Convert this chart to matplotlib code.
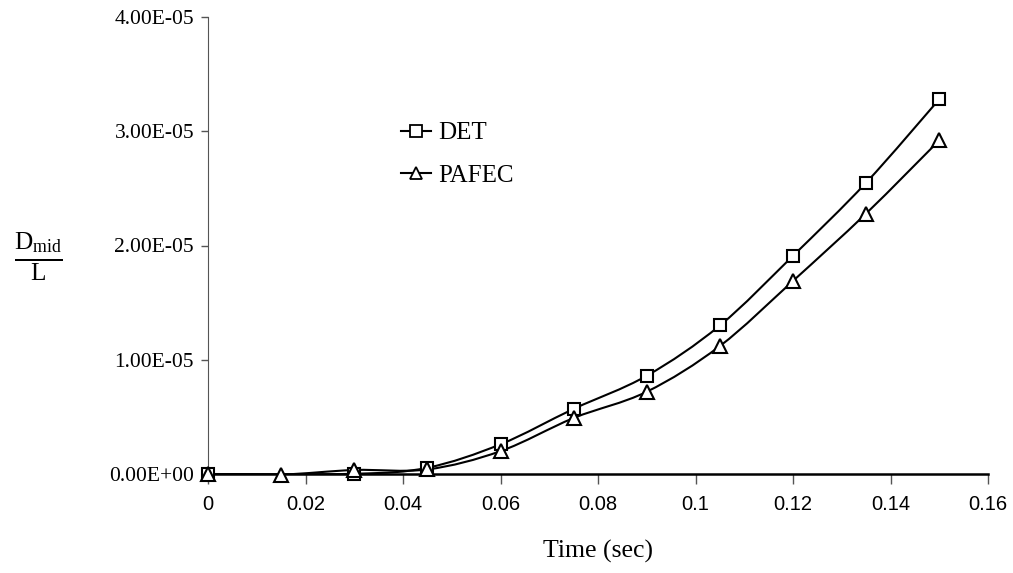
import matplotlib
matplotlib.use("Agg")
import matplotlib.pyplot as plt
from matplotlib.path import Path
from matplotlib.patches import PathPatch
from matplotlib.lines import Line2D
import numpy as np

# data
det_t = [0.0, 0.03, 0.045, 0.06, 0.075, 0.09, 0.105, 0.12, 0.135, 0.15]
det_d = [0.0, 0.02e-6, 0.55e-6, 2.6e-6, 5.7e-6, 8.6e-6, 13.0e-6, 19.1e-6, 25.5e-6, 32.8e-6]
pafec_t = [0.0, 0.015, 0.03, 0.045, 0.06, 0.075, 0.09, 0.105, 0.12, 0.135, 0.15]
pafec_d = [0.0, -0.05e-6, 0.35e-6, 0.4e-6, 2.0e-6, 4.9e-6, 7.2e-6, 11.2e-6, 16.9e-6, 22.8e-6, 29.2e-6]

x_ticks = [0, 0.02, 0.04, 0.06, 0.08, 0.1, 0.12, 0.14, 0.16]
x_tick_labels = ["0", "0.02", "0.04", "0.06", "0.08", "0.1", "0.12", "0.14", "0.16"]
y_ticks = [0, 1e-5, 2e-5, 3e-5, 4e-5]
y_tick_labels = ["0.00E+00", "1.00E-05", "2.00E-05", "3.00E-05", "4.00E-05"]

plt.rcParams["mathtext.fontset"] = "custom"
plt.rcParams["mathtext.rm"] = "Liberation Serif"
plt.rcParams["mathtext.it"] = "Liberation Serif"


def smooth_path(xs, ys):
    # Excel-style smoothed line: cubic Bezier segments through the points
    pts = np.column_stack([xs, ys])
    n = len(pts)
    verts = [pts[0]]
    codes = [Path.MOVETO]
    for i in range(n - 1):
        p0 = pts[i - 1] if i > 0 else pts[i]
        p1 = pts[i]
        p2 = pts[i + 1]
        p3 = pts[i + 2] if i + 2 < n else pts[i + 1]
        c1 = p1 + (p2 - p0) / 6
        c2 = p2 - (p3 - p1) / 6
        verts += [c1, c2, p2]
        codes += [Path.CURVE4] * 3
    return Path(verts, codes)


fig = plt.figure(figsize=(10.13, 5.73), dpi=100)
ax = fig.add_axes([208 / 1013, 1 - 474 / 573, (988 - 208) / 1013, (474 - 17) / 573])

for xs, ys, mk in [(det_t, det_d, "s"), (pafec_t, pafec_d, "^")]:
    ax.add_patch(PathPatch(smooth_path(xs, ys), facecolor="none", edgecolor="black", lw=1.5, zorder=2))
    ax.plot(xs, ys, linestyle="none", marker=mk, markersize=8.5 if mk == "s" else 9.5,
            markerfacecolor="white", markeredgecolor="black", markeredgewidth=1.5, zorder=3,
            clip_on=False)

ax.set_xlim(0, 0.16)
ax.set_ylim(0, 4e-5)
ax.set_xticks(x_ticks)
ax.set_xticklabels(x_tick_labels, family=["Liberation Sans Narrow", "Liberation Sans"], fontsize=14.5)
ax.set_yticks(y_ticks)
ax.set_yticklabels(y_tick_labels, family="Liberation Serif", fontsize=15.5)
ax.tick_params(axis="x", direction="out", length=7, width=1, pad=8, color="#555555")
ax.tick_params(axis="y", direction="out", length=5, width=1, pad=5, color="#555555")
for side in ["top", "right"]:
    ax.spines[side].set_visible(False)
ax.spines["left"].set_color("#555555")
ax.spines["bottom"].set_linewidth(1.8)

ax.set_xlabel("Time (sec)", family="Liberation Serif", fontsize=18.5, labelpad=19)
fig.text(38 / 1013, 1 - 257 / 573, r"$\frac{\mathrm{D_{mid}}}{\mathrm{L}}$", fontsize=26,
         ha="center", va="center")

handles = [
    Line2D([], [], color="black", lw=1.5, marker="s", markersize=8, markerfacecolor="white",
           markeredgewidth=1.3),
    Line2D([], [], color="black", lw=1.5, marker="^", markersize=8, markerfacecolor="white",
           markeredgewidth=1.3),
]
ax.legend(handles, ["DET", "PAFEC"], loc="upper left", bbox_to_anchor=(0.218, 0.82),
          frameon=False, prop={"family": "Liberation Serif", "size": 18},
          handlelength=1.2, handletextpad=0.3, labelspacing=0.8)

fig.savefig("out.png", dpi=100)
